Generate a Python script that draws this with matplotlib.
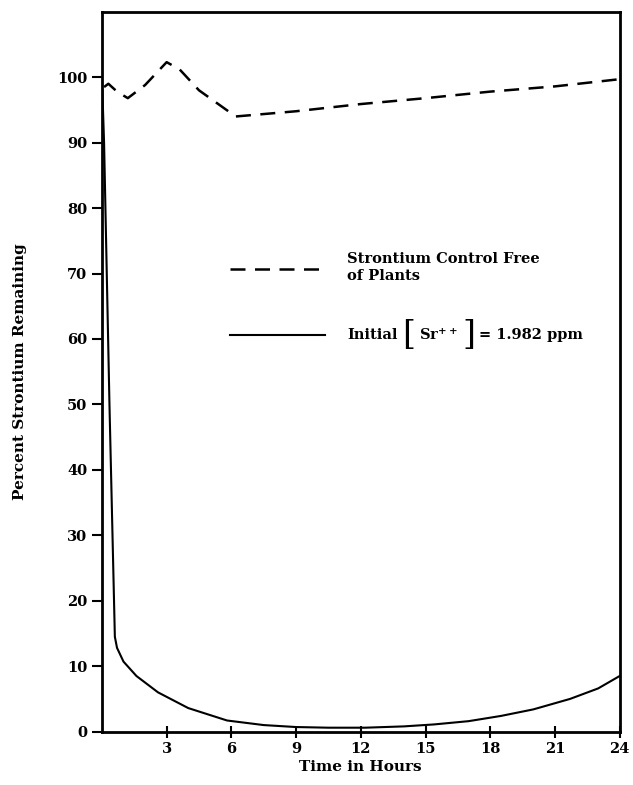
import matplotlib
matplotlib.use("Agg")
import matplotlib.pyplot as plt
from matplotlib.offsetbox import TextArea, HPacker, AnnotationBbox

plt.rcParams["font.family"] = ["DejaVu Serif"]
plt.rcParams["font.weight"] = "bold"
plt.rcParams["axes.labelweight"] = "bold"
plt.rcParams["mathtext.fontset"] = "custom"
plt.rcParams["mathtext.rm"] = "DejaVu Serif:bold"
plt.rcParams["mathtext.it"] = "DejaVu Serif:bold"
plt.rcParams["mathtext.bf"] = "DejaVu Serif:bold"

# Controle sem plantas (tracejada)
control_t = [0.1, 0.3, 0.7, 1.2, 2.0, 3.0, 3.6, 4.5, 6.2, 9.0, 12.0, 15.0, 18.0, 21.0, 24.0]
control_pct = [98.5, 99.0, 97.8, 96.8, 98.8, 102.3, 101.2, 98.0, 94.0, 94.8, 95.9, 96.8, 97.8, 98.6, 99.7]

# Sr++ inicial = 1.982 ppm (continua)
sr_t = [0.02, 0.1, 0.35, 0.6, 0.7, 1.0, 1.6, 2.6, 4.0, 5.8, 7.5, 9.0, 10.5, 12.2, 14.0, 15.4, 17.0, 18.5, 20.0, 21.7, 23.0, 24.0]
sr_pct = [98.0, 90.0, 50.0, 14.5, 12.8, 10.7, 8.5, 6.0, 3.6, 1.7, 1.0, 0.7, 0.6, 0.6, 0.8, 1.1, 1.6, 2.4, 3.4, 5.0, 6.6, 8.5]

xticks = [3, 6, 9, 12, 15, 18, 21, 24]
yticks = [0, 10, 20, 30, 40, 50, 60, 70, 80, 90, 100]

fig = plt.figure(figsize=(6.33, 7.85), dpi=100)
ax = fig.add_axes([0.161, 0.068, 0.818, 0.917])

ax.plot(control_t, control_pct, color="black", lw=1.8, linestyle=(0, (6, 3.8)))
ax.plot(sr_t, sr_pct, color="black", lw=1.5)

ax.set_xlim(0, 24)
ax.set_ylim(0, 110)
ax.set_xticks(xticks)
ax.set_yticks(yticks)
ax.tick_params(axis="y", direction="out", length=7, width=1.5, labelsize=10.5)
ax.tick_params(axis="x", direction="inout", length=9, width=1.5, labelsize=10.5, pad=3)
for s in ax.spines.values():
    s.set_linewidth(2)

ax.set_xlabel("Time in Hours", fontsize=11, labelpad=3)
ax.set_ylabel("Percent Strontium Remaining", fontsize=11, labelpad=22)

# Legenda desenhada a mao
ax.plot([0.248, 0.43], [0.642, 0.642], transform=ax.transAxes,
        color="black", lw=1.8, linestyle=(0, (6, 3.8)))
ax.text(0.474, 0.645, "Strontium Control Free\nof Plants", transform=ax.transAxes,
        fontsize=10.5, va="center", ha="left", linespacing=1.3)
ax.plot([0.248, 0.43], [0.551, 0.551], transform=ax.transAxes,
        color="black", lw=1.5)

parts = [
    TextArea("Initial", textprops=dict(fontsize=10.5, weight="bold")),
    TextArea("[", textprops=dict(fontsize=24, weight="normal")),
    TextArea(r"Sr$^{++}$", textprops=dict(fontsize=10.5, weight="bold")),
    TextArea("]", textprops=dict(fontsize=24, weight="normal")),
    TextArea("= 1.982 ppm", textprops=dict(fontsize=10.5, weight="bold")),
]
box = HPacker(children=parts, align="center", pad=0, sep=3)
ab = AnnotationBbox(box, (0.474, 0.551), xycoords="axes fraction",
                    box_alignment=(0, 0.5), frameon=False, pad=0)
ax.add_artist(ab)

plt.savefig("out.png", dpi=100)
plt.close()
